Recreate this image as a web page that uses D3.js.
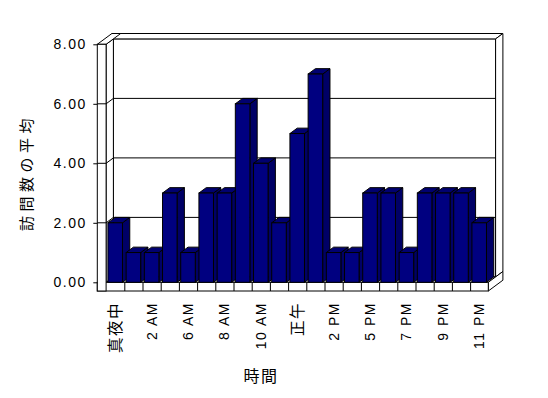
<!DOCTYPE html>
<html>
<head>
<meta charset="utf-8">
<script src="https://cdn.jsdelivr.net/npm/d3@7"></script>
<style>
  body { margin: 0; background: #fff; }
  text { font-family: "Liberation Sans", Arial, "Noto Sans CJK JP", sans-serif; fill: #000; }
  .cjk { font-family: "Noto Sans CJK JP", sans-serif; }
</style>
</head>
<body>
<div id="chart"></div>
<script>
  // hours with visits (some hours have no data)
  var hours = ["真夜中", "1 AM", "2 AM", "4 AM", "6 AM", "7 AM", "8 AM", "9 AM", "10 AM", "11 AM",
    "正午", "1 PM", "2 PM", "3 PM", "5 PM", "6 PM", "7 PM", "8 PM", "9 PM", "10 PM", "11 PM"];
  var avgVisits = [2, 1, 1, 3, 1, 3, 3, 6, 4, 2, 5, 7, 1, 1, 3, 3, 1, 3, 3, 3, 2];
  var yTicks = [0, 2, 4, 6, 8];

  var svgWidth = 548;
  var svgHeight = 398;

  // front plane of the 3D box
  var plotLeft = 106.1, plotRight = 488.3, plotBase = 282.3, plotTop = 44.3;
  var wallX = 97.3;       // outer face of the side wall
  var floorBottom = 291;  // bottom of the floor slab
  var dx = 7.3, dy = -5.4; // depth step (one bar depth)

  var svg = d3.select("#chart")
    .append("svg")
    .attr("width", svgWidth)
    .attr("height", svgHeight);

  var xScale = d3.scaleBand()
    .domain(hours)
    .range([plotLeft, plotRight])
    .paddingInner(0.2)
    .paddingOuter(0.1);

  var yScale = d3.scaleLinear()
    .domain([0, 8])
    .range([plotBase, plotTop]);

  var idxScale = d3.scaleLinear()
    .domain([0, hours.length])
    .range([plotLeft, plotRight]);

  function poly(pts) {
    return "M" + pts.map(p => p.join(",")).join("L") + "Z";
  }

  var box = svg.append("g")
    .attr("fill", "#fff")
    .attr("stroke", "#000")
    .attr("stroke-width", 1);

  // back wall: front face, top, right end
  box.append("rect")
    .attr("x", plotLeft + dx).attr("y", plotTop + dy)
    .attr("width", plotRight - plotLeft).attr("height", plotBase - plotTop);
  box.append("path").attr("d", poly([[wallX + 2 * dx, plotTop + 2 * dy], [plotRight + 2 * dx, plotTop + 2 * dy],
    [plotRight + dx, plotTop + dy], [plotLeft + dx, plotTop + dy]]));
  box.append("path").attr("d", poly([[plotRight + dx, plotTop + dy], [plotRight + 2 * dx, plotTop + 2 * dy],
    [plotRight + 2 * dx, plotBase + 2 * dy], [plotRight + dx, plotBase + dy]]));

  // floor: top, right side, front
  box.append("path").attr("d", poly([[plotLeft, plotBase], [plotRight, plotBase],
    [plotRight + dx, plotBase + dy], [plotLeft + dx, plotBase + dy]]));
  box.append("path").attr("d", poly([[plotRight, plotBase], [plotRight + 2 * dx, plotBase + 2 * dy],
    [plotRight + 2 * dx, floorBottom + 2 * dy], [plotRight, floorBottom]]));
  box.append("rect")
    .attr("x", wallX).attr("y", plotBase)
    .attr("width", plotRight - wallX).attr("height", floorBottom - plotBase);

  // side wall: inner face, top, front
  box.append("path").attr("d", poly([[plotLeft, plotTop], [plotLeft + dx, plotTop + dy],
    [plotLeft + dx, plotBase + dy], [plotLeft, plotBase]]));
  box.append("path").attr("d", poly([[wallX, plotTop], [plotLeft, plotTop],
    [plotLeft + 2 * dx, plotTop + 2 * dy], [wallX + 2 * dx, plotTop + 2 * dy]]));
  box.append("rect")
    .attr("x", wallX).attr("y", plotTop)
    .attr("width", plotLeft - wallX).attr("height", floorBottom - plotTop);

  // gridlines across the side wall front, its inner face and the back wall
  var grid = svg.append("g").attr("stroke", "#000").attr("stroke-width", 1).attr("fill", "none");
  yTicks.filter(v => v > 0 && v < 8).forEach(function(v) {
    var y = yScale(v);
    grid.append("path")
      .attr("d", `M${wallX},${y}L${plotLeft},${y}L${plotLeft + dx},${y + dy}L${plotRight + dx},${y + dy}`);
  });

  // category ticks on the front of the floor
  var xAxis = d3.axisBottom(idxScale)
    .tickValues(d3.range(1, hours.length))
    .tickSize(floorBottom - plotBase)
    .tickFormat("");
  svg.append("g")
    .attr("transform", `translate(0, ${plotBase})`)
    .call(xAxis)
    .call(g => g.select(".domain").remove());

  // 3D bars, left to right so each front face covers the previous side
  var bars = svg.append("g").selectAll("g")
    .data(avgVisits)
    .enter()
    .append("g")
    .attr("stroke", "#000")
    .attr("stroke-width", 1);

  bars.each(function(d, i) {
    var g = d3.select(this);
    var x0 = xScale(hours[i]), x1 = x0 + xScale.bandwidth();
    var y0 = yScale(d), y1 = yScale(0);
    g.append("path").attr("fill", "#000066")
      .attr("d", poly([[x1, y0], [x1 + dx, y0 + dy], [x1 + dx, y1 + dy], [x1, y1]]));
    g.append("path").attr("fill", "#000070")
      .attr("d", poly([[x0, y0], [x0 + dx, y0 + dy], [x1 + dx, y0 + dy], [x1, y0]]));
    g.append("rect").attr("fill", "#000080")
      .attr("x", x0).attr("y", y0)
      .attr("width", x1 - x0).attr("height", y1 - y0);
  });

  // y axis labels
  var yAxis = d3.axisLeft(yScale)
    .tickValues(yTicks)
    .tickSize(4)
    .tickPadding(6.5)
    .tickFormat(d3.format(".2f"));
  svg.append("g")
    .attr("transform", `translate(${wallX}, 0)`)
    .call(yAxis)
    .call(g => g.select(".domain").remove())
    .call(g => g.selectAll("line").attr("stroke", "#000"))
    .call(g => g.selectAll("text")
      .attr("font-family", null)
      .style("font-size", "14px")
      .style("letter-spacing", "1.5px"));

  // x labels (every other hour), rotated
  var isCjk = s => /[\u3000-\u9fff]/.test(s);
  svg.append("g").selectAll("text")
    .data(hours.filter((h, i) => i % 2 === 0))
    .enter()
    .append("text")
    .attr("class", d => isCjk(d) ? "cjk" : null)
    .attr("transform", d => `translate(${xScale(d) + xScale.bandwidth() / 2}, 302) rotate(-90)`)
    .attr("text-anchor", "end")
    .attr("dy", "0.35em")
    .style("font-size", d => isCjk(d) ? "15.5px" : "14px")
    .style("letter-spacing", "1.5px")
    .text(d => d);

  // axis titles
  svg.append("text")
    .attr("class", "cjk")
    .attr("transform", "translate(26.7, 172.5) rotate(-90)")
    .attr("text-anchor", "middle")
    .attr("dy", "0.35em")
    .style("font-size", "15px")
    .style("letter-spacing", "4.5px")
    .text("訪問数の平均");

  svg.append("text")
    .attr("class", "cjk")
    .attr("x", 261)
    .attr("y", 376)
    .attr("text-anchor", "middle")
    .attr("dy", "0.35em")
    .style("font-size", "16px")
    .style("letter-spacing", "1.5px")
    .text("時間");
</script>
</body>
</html>
